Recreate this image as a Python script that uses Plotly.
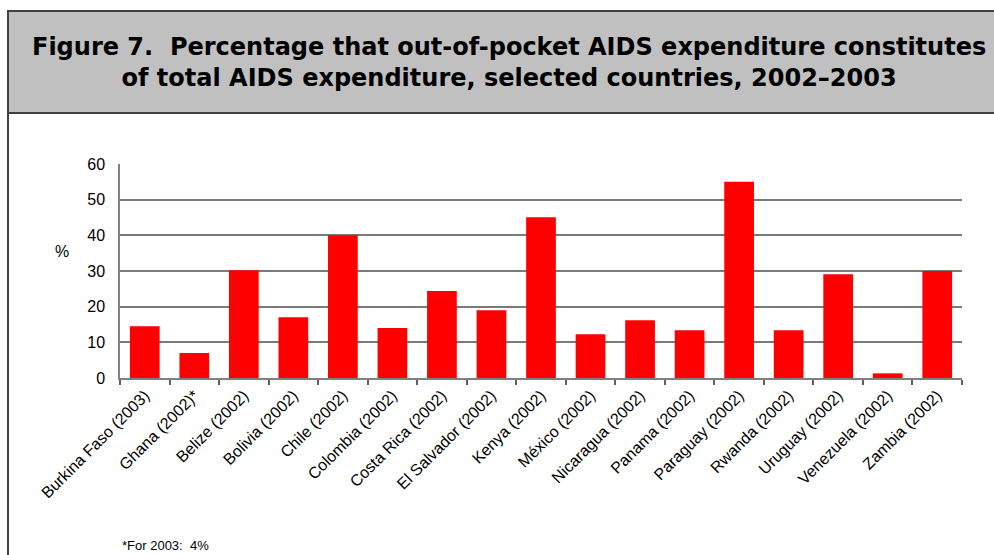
import plotly.graph_objects as go

countries = ["Burkina Faso (2003)", "Ghana (2002)*", "Belize (2002)", "Bolivia (2002)",
             "Chile (2002)", "Colombia (2002)", "Costa Rica (2002)", "El Salvador (2002)",
             "Kenya (2002)", "México (2002)", "Nicaragua (2002)", "Panama (2002)",
             "Paraguay (2002)", "Rwanda (2002)", "Uruguay (2002)", "Venezuela (2002)",
             "Zambia (2002)"]
values = [14.5, 7.0, 30.2, 17.0, 40.0, 14.0, 24.4, 19.0, 45.1, 12.3, 16.2, 13.4,
          55.0, 13.4, 29.1, 1.3, 30.0]
y_ticks = [0, 10, 20, 30, 40, 50, 60]

title_text = ("<b>Figure 7.  Percentage that out-of-pocket AIDS expenditure constitutes<br>"
              "of total AIDS expenditure, selected countries, 2002–2003</b>")
footnote = "*For 2003:  4%"

FONT = "Arial, 'Liberation Sans', sans-serif"
TFONT = "'DejaVu Sans', Arial, sans-serif"
W, H = 994, 555
L, R, T, B = 120, 32, 164, 177
pw, ph = W - L - R, H - T - B

def px(x):
    return (x - L) / pw

def py(y):
    return (H - B - y) / ph

fig = go.Figure(go.Bar(x=countries, y=values, marker=dict(color="#ff0000", line=dict(width=0)),
                       width=0.6))

fig.update_layout(
    width=W, height=H,
    margin=dict(l=L, r=R, t=T, b=B, autoexpand=False),
    paper_bgcolor="white", plot_bgcolor="white",
    showlegend=False,
    font=dict(family=FONT, color="black", size=16),
    xaxis=dict(type="category", tickangle=-45, ticks="outside", ticklen=5, tickcolor="#606060",
               tickwidth=1.5, tickson="boundaries", showline=True, linecolor="#808080", linewidth=2,
               showgrid=False, tickfont=dict(size=16)),
    yaxis=dict(range=[0, 60], tickvals=y_ticks, showgrid=True, gridcolor="#7a7a7a", gridwidth=2,
               showline=True, linecolor="#808080", linewidth=1.5, zeroline=False,
               ticks="", ticklen=0, ticklabelstandoff=10, tickfont=dict(size=16)),
    shapes=[
        dict(type="rect", xref="paper", yref="paper", x0=px(8), x1=px(1000), y0=py(113), y1=py(11),
             fillcolor="#c0c0c0", line=dict(color="#404040", width=2), layer="below"),
        dict(type="line", xref="paper", yref="paper", x0=px(8), x1=px(8), y0=py(113), y1=py(560),
             line=dict(color="#404040", width=2)),
    ],
    annotations=[
        dict(text=title_text, xref="paper", yref="paper", x=px(509), y=py(62), xanchor="center",
             yanchor="middle", showarrow=False, font=dict(size=24, family=TFONT, color="black")),
        dict(text="%", xref="paper", yref="paper", x=px(62), y=py(251), xanchor="center",
             yanchor="middle", showarrow=False, font=dict(size=16)),
        dict(text=footnote, xref="paper", yref="paper", x=px(120), y=py(545), xanchor="left",
             yanchor="middle", showarrow=False, font=dict(size=13)),
    ],
)

fig.write_html("out.html")
